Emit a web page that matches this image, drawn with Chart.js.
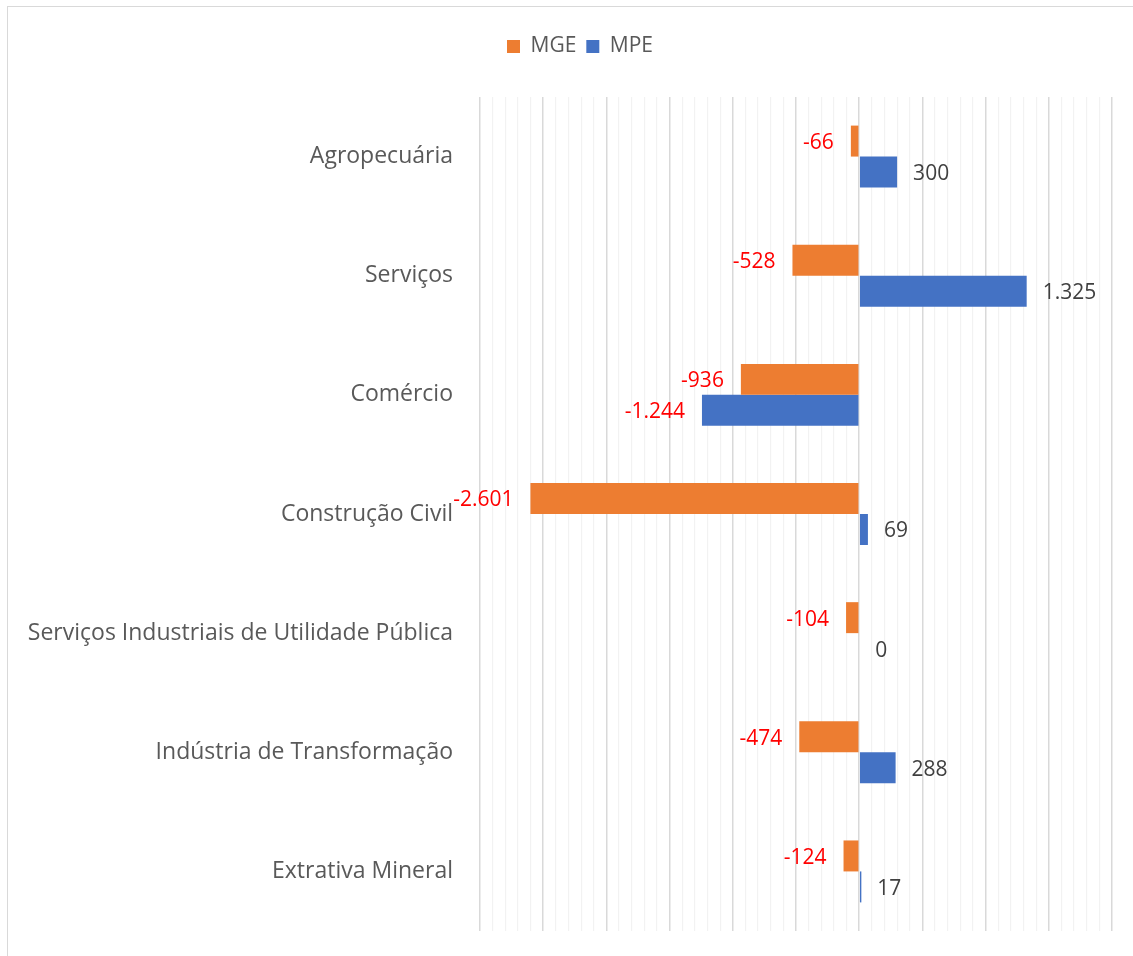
<!DOCTYPE html>
<html>
<head>
<meta charset="utf-8">
<script src="https://cdn.jsdelivr.net/npm/chart.js@4.4.1/dist/chart.umd.min.js"></script>
<style>
  body { margin: 0; background: #fff; overflow: hidden; }
  #frame { position: absolute; left: 7px; top: 6px; width: 1200px; height: 1000px; border: 1px solid #d9d9d9; }
  #wrap { position: absolute; left: 0; top: 0; width: 1133px; height: 956px; }
</style>
</head>
<body>
<div id="frame"></div>
<div id="wrap"><canvas id="chart"></canvas></div>
<script>
// dados do gráfico
const setores = [
  "Agropecuária",
  "Serviços",
  "Comércio",
  "Construção Civil",
  "Serviços Industriais de Utilidade Pública",
  "Indústria de Transformação",
  "Extrativa Mineral"
];
const valoresMGE = [-66, -528, -936, -2601, -104, -474, -124];
const valoresMPE = [300, 1325, -1244, 69, 0, 288, 17];

const corMGE = "#ED7D31";
const corMPE = "#4472C4";

// formata número no padrão brasileiro (1.325)
const formatar = (v) => {
  const s = Math.abs(v).toString().replace(/\B(?=(\d{3})+(?!\d))/g, ".");
  return (v < 0 ? "-" : "") + s;
};

// rótulos de dados desenhados à mão
const rotulos = {
  id: "rotulos",
  afterDatasetsDraw(chart) {
    const ctx = chart.ctx;
    ctx.save();
    ctx.font = "21px 'Open Sans'";
    ctx.textBaseline = "middle";
    chart.data.datasets.forEach((ds, i) => {
      const meta = chart.getDatasetMeta(i);
      meta.data.forEach((bar, j) => {
        const v = ds.data[j];
        if (v < 0) {
          ctx.fillStyle = "#ff0000";
          ctx.textAlign = "right";
          ctx.fillText(formatar(v), bar.x - 17, bar.y + 2);
        } else {
          ctx.fillStyle = "#404040";
          ctx.textAlign = "left";
          ctx.fillText(formatar(v), bar.x + 16, bar.y + 2);
        }
      });
    });
    ctx.restore();
  }
};

// espaço extra abaixo da legenda e legenda um pouco deslocada à direita
const ajusteLegenda = {
  id: "ajusteLegenda",
  beforeInit(chart) {
    const fit = chart.legend.fit;
    chart.legend.fit = function () {
      fit.bind(this)();
      this.height += 30;
    };
  },
  afterLayout(chart) {
    chart.legend.left = 48;
  }
};

const ctx = document.getElementById("chart").getContext("2d");
new Chart(ctx, {
  type: "bar",
  data: {
    labels: setores,
    datasets: [
      { label: "MGE", data: valoresMGE, backgroundColor: corMGE, categoryPercentage: 0.52, barPercentage: 1.0 },
      { label: "MPE", data: valoresMPE, backgroundColor: corMPE, categoryPercentage: 0.52, barPercentage: 1.0 }
    ]
  },
  options: {
    indexAxis: "y",
    responsive: true,
    maintainAspectRatio: false,
    animation: false,
    layout: { padding: { top: 26, left: 0, right: 21, bottom: 25 } },
    plugins: {
      tooltip: { enabled: false },
      legend: {
        position: "top",
        labels: {
          boxWidth: 13,
          boxHeight: 13,
          padding: 10,
          color: "#595959",
          font: { family: "'Open Sans'", size: 21 }
        }
      }
    },
    scales: {
      x: {
        min: -3000,
        max: 2000,
        afterFit(scale) { scale.height = 0; },
        ticks: { display: false, stepSize: 100 },
        border: { display: false },
        grid: {
          drawTicks: false,
          color: (c) => (c.tick && c.tick.value % 500 === 0 ? "#d9d9d9" : "#f2f2f2"),
          lineWidth: (c) => (c.tick && c.tick.value % 500 === 0 ? 1.5 : 1.2)
        }
      },
      y: {
        afterFit(scale) {
          scale.width = 480;
          scale.paddingTop = 0;
          scale.paddingBottom = 0;
        },
        border: { display: false },
        grid: { display: false, drawTicks: false },
        ticks: {
          padding: 27,
          color: "#595959",
          font: { family: "'Open Sans'", size: 23 }
        }
      }
    }
  },
  plugins: [rotulos, ajusteLegenda]
});
</script>
</body>
</html>
